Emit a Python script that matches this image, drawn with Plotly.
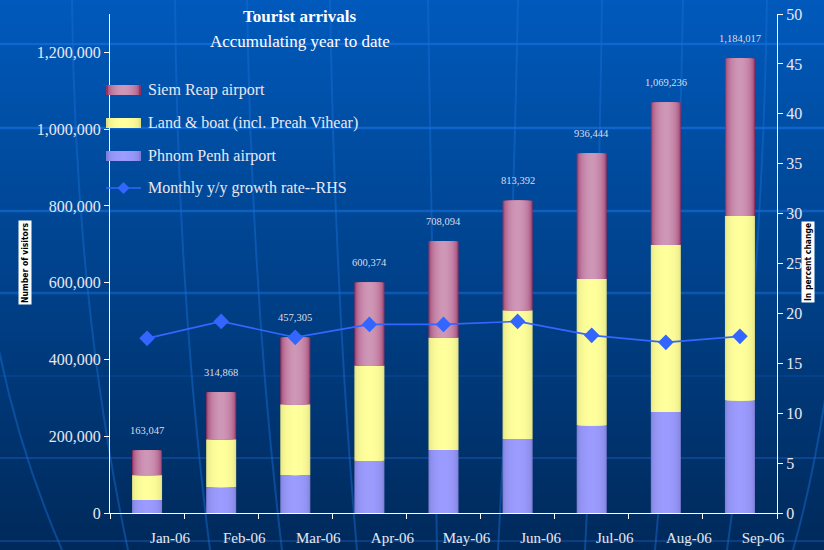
import base64
import math
import struct
import zlib
import plotly.graph_objects as go

# ---------------- data ----------------
months = ["Jan-06", "Feb-06", "Mar-06", "Apr-06", "May-06", "Jun-06", "Jul-06", "Aug-06", "Sep-06"]
phnom_penh = [33800, 67500, 98700, 135900, 164400, 193000, 228500, 263000, 293500]
land_boat = [64900, 124700, 184300, 248500, 292600, 335000, 381500, 435600, 480500]
siem_reap = [64347, 122668, 174305, 215974, 251094, 285392, 326444, 370636, 410017]
totals = [163047, 314868, 457305, 600374, 708094, 813392, 936444, 1069236, 1184017]
growth = [17.5, 19.2, 17.6, 18.9, 18.9, 19.2, 17.8, 17.1, 17.7]
left_ticks = [0, 200000, 400000, 600000, 800000, 1000000, 1200000]
right_ticks = [0, 5, 10, 15, 20, 25, 30, 35, 40, 45, 50]

# ---------------- geometry helpers (figure pixels -> paper) ----------------
W, H = 824, 550
ML, MR, MT, MB = 110, 47, 14, 37
PW, PH = W - ML - MR, H - MT - MB


def px(x):
    return (x - ML) / PW


def py(y):
    return (H - MB - y) / PH


def mix(c1, c2, t):
    a = [int(c1[i:i + 2], 16) for i in (1, 3, 5)]
    b = [int(c2[i:i + 2], 16) for i in (1, 3, 5)]
    return "#%02x%02x%02x" % tuple(round(a[k] + (b[k] - a[k]) * t) for k in range(3))


# ---------------- gradient background as PNG ----------------
def gradient_png(top, bottom, n=275):
    rows = b""
    for i in range(n):
        t = i / (n - 1)
        r = round(top[0] + (bottom[0] - top[0]) * t)
        g = round(top[1] + (bottom[1] - top[1]) * t)
        b = round(top[2] + (bottom[2] - top[2]) * t)
        rows += b"\x00" + bytes([r, g, b])

    def chunk(tag, data):
        c = struct.pack(">I", len(data)) + tag + data
        return c + struct.pack(">I", zlib.crc32(tag + data) & 0xffffffff)
    png = b"\x89PNG\r\n\x1a\n"
    png += chunk(b"IHDR", struct.pack(">IIBBBBB", 1, n, 8, 2, 0, 0, 0))
    png += chunk(b"IDAT", zlib.compress(rows))
    png += chunk(b"IEND", b"")
    return "data:image/png;base64," + base64.b64encode(png).decode()


bg_src = gradient_png((0, 90, 188), (0, 40, 88))

fig = go.Figure()

# ---------------- bars (cylinder shading via nested layered bars) ----------------
seg_colors = [
    (phnom_penh, [0] * 9, "#8080d8", "#9c9cff"),
    (land_boat, phnom_penh, "#e2e284", "#ffff9c"),
    (siem_reap, [p + l for p, l in zip(phnom_penh, land_boat)], "#963261", "#cf97b7"),
]
BAR_W = 0.405
N_LAYERS = 14
layers = []
for i in range(N_LAYERS):
    d = 1 - i / N_LAYERS
    layers.append((BAR_W * d, math.sqrt(max(0.0, 1 - d * d))))
for vals, base, edge, light in seg_colors:
    for w, t in layers:
        fig.add_trace(go.Bar(
            x=months, y=vals, base=base, width=w,
            marker=dict(color=mix(edge, light, t), line=dict(width=0)),
            showlegend=False, hoverinfo="skip", yaxis="y",
        ))

# ---------------- growth line ----------------
fig.add_trace(go.Scatter(
    x=months, y=growth, yaxis="y2", mode="lines+markers",
    line=dict(color="#3366ff", width=1.6),
    marker=dict(symbol="diamond", size=12, color="#3366ff"),
    showlegend=False,
))

serif = "Liberation Serif, Times New Roman, serif"
txtc = "#e8e8f2"

annotations = []
# total labels above bars
for m, tot in zip(months, totals):
    annotations.append(dict(x=m, y=tot, xref="x", yref="y", text=f"{tot:,}",
                            showarrow=False, yshift=20, yanchor="middle",
                            font=dict(family=serif, size=10.5, color="#dcdcea")))

# titles
annotations.append(dict(x=px(300), y=py(16), xref="paper", yref="paper", showarrow=False,
                        text="<b>Tourist arrivals</b>", xanchor="center", yanchor="middle",
                        font=dict(family=serif, size=17, color="#ffffff")))
annotations.append(dict(x=px(300), y=py(41), xref="paper", yref="paper", showarrow=False,
                        text="Accumulating year to date", xanchor="center", yanchor="middle",
                        font=dict(family=serif, size=17, color="#ffffff")))

# axis titles
annotations.append(dict(x=px(18), y=py(263), xref="paper", yref="paper", showarrow=False,
                        text="<b>Number of visitors</b>", textangle=-90, bgcolor="#ffffff",
                        borderpad=1, font=dict(family="DejaVu Sans Condensed, DejaVu Sans", size=8.5, color="#000000")))
annotations.append(dict(x=px(815), y=py(262), xref="paper", yref="paper", showarrow=False,
                        text="<b>In percent change</b>", textangle=-90, bgcolor="#ffffff",
                        borderpad=1, font=dict(family="DejaVu Sans Condensed, DejaVu Sans", size=8.5, color="#000000")))

# custom legend
legend_items = [
    ("Siem Reap airport", "#963261", "#cf97b7", 90),
    ("Land & boat (incl. Preah Vihear)", "#e2e284", "#ffff9c", 123),
    ("Phnom Penh airport", "#8080d8", "#9c9cff", 156),
]
shapes = []
for label, edge, light, yy in legend_items:
    for k in range(8):
        d = 1 - k / 8
        half = 17.5 * d
        shapes.append(dict(type="rect", xref="paper", yref="paper", x0=px(123.5 - half), x1=px(123.5 + half),
                           y0=py(yy + 5), y1=py(yy - 5),
                           fillcolor=mix(edge, light, math.sqrt(max(0.0, 1 - d * d))), line=dict(width=0)))
    annotations.append(dict(x=px(146), y=py(yy), xref="paper", yref="paper", showarrow=False,
                            text=label, xanchor="left", yanchor="middle",
                            font=dict(family=serif, size=16, color=txtc)))
shapes.append(dict(type="line", xref="paper", yref="paper", x0=px(106), x1=px(141),
                   y0=py(188), y1=py(188), line=dict(color="#3366ff", width=1.6)))
shapes.append(dict(type="path", xref="paper", yref="paper",
                   path=f"M {px(117.5)},{py(188)} L {px(123.5)},{py(182)} L {px(129.5)},{py(188)} L {px(123.5)},{py(194)} Z",
                   fillcolor="#3366ff", line=dict(width=0)))
annotations.append(dict(x=px(146), y=py(188), xref="paper", yref="paper", showarrow=False,
                        text="Monthly y/y growth rate--RHS", xanchor="left", yanchor="middle",
                        font=dict(family=serif, size=16, color=txtc)))

# decorative globe lines (background)
for yy, col, wd in [(44, "rgba(20,110,220,0.75)", 2.5), (128, "rgba(20,110,220,0.75)", 2.5),
                    (211, "rgba(20,105,210,0.7)", 2.5), (293, "rgba(20,100,200,0.65)", 2.5),
                    (376, "rgba(20,90,180,0.35)", 1.5), (458, "rgba(20,85,170,0.55)", 2),
                    (541, "rgba(20,80,160,0.55)", 2)]:
    shapes.append(dict(type="line", xref="paper", yref="paper", layer="below",
                       x0=px(0), x1=px(W), y0=py(yy), y1=py(yy), line=dict(color=col, width=wd)))
meridians = [(-10, 300, 10, 430, 62, 550), (72, 0, 75, 300, 128, 550), (175, 0, 178, 300, 210, 550),
             (247, 0, 252, 300, 282, 550), (330, 0, 335, 300, 357, 550), (428, 0, 432, 300, 437, 550),
             (518, 0, 512, 300, 498, 550), (602, 0, 598, 300, 585, 550), (683, 0, 678, 300, 655, 550),
             (767, 0, 762, 300, 727, 550), (845, 220, 830, 420, 793, 550)]
for x0, y0, cx, cy, x1, y1 in meridians:
    shapes.append(dict(type="path", xref="paper", yref="paper", layer="below",
                       path=f"M {px(x0)},{py(y0)} Q {px(cx)},{py(cy)} {px(x1)},{py(y1)}",
                       line=dict(color="rgba(25,110,215,0.45)", width=2)))

fig.update_layout(
    width=W, height=H,
    margin=dict(l=ML, r=MR, t=MT, b=MB, pad=0, autoexpand=False),
    paper_bgcolor="#00295a",
    plot_bgcolor="rgba(0,0,0,0)",
    barmode="overlay",
    showlegend=False,
    images=[dict(source=bg_src, xref="paper", yref="paper", x=px(0) - 0.01, y=py(0) + 0.01,
                 sizex=(W + 20) / PW, sizey=(H + 20) / PH, sizing="stretch", layer="below",
                 xanchor="left", yanchor="top")],
    shapes=shapes,
    annotations=annotations,
    xaxis=dict(type="category", range=[-0.5, 8.5], showline=True, linecolor="#ffffff", linewidth=1.2,
               ticks="outside", tickson="boundaries", ticklen=5, tickcolor="#ffffff",
               showgrid=False, zeroline=False, ticklabelshift=23, ticklabelstandoff=11,
               automargin=False,
               tickfont=dict(family=serif, size=15, color=txtc)),
    yaxis=dict(range=[0, 1300000], tickvals=left_ticks, tickformat=",", showline=True,
               linecolor="#ffffff", linewidth=1.2, ticks="outside", ticklen=5, tickcolor="#ffffff",
               showgrid=False, zeroline=False, automargin=False,
               tickfont=dict(family=serif, size=16, color=txtc)),
    yaxis2=dict(range=[0, 50], tickvals=right_ticks, overlaying="y", side="right", showline=True,
                linecolor="#ffffff", linewidth=1.2, ticks="outside", ticklen=5, tickcolor="#ffffff",
                showgrid=False, zeroline=False, automargin=False,
                tickfont=dict(family=serif, size=16, color=txtc)),
)

fig.write_html("out.html", config={"displayModeBar": False},
               post_script="document.body.style.margin='0';document.body.style.overflow='hidden';")
